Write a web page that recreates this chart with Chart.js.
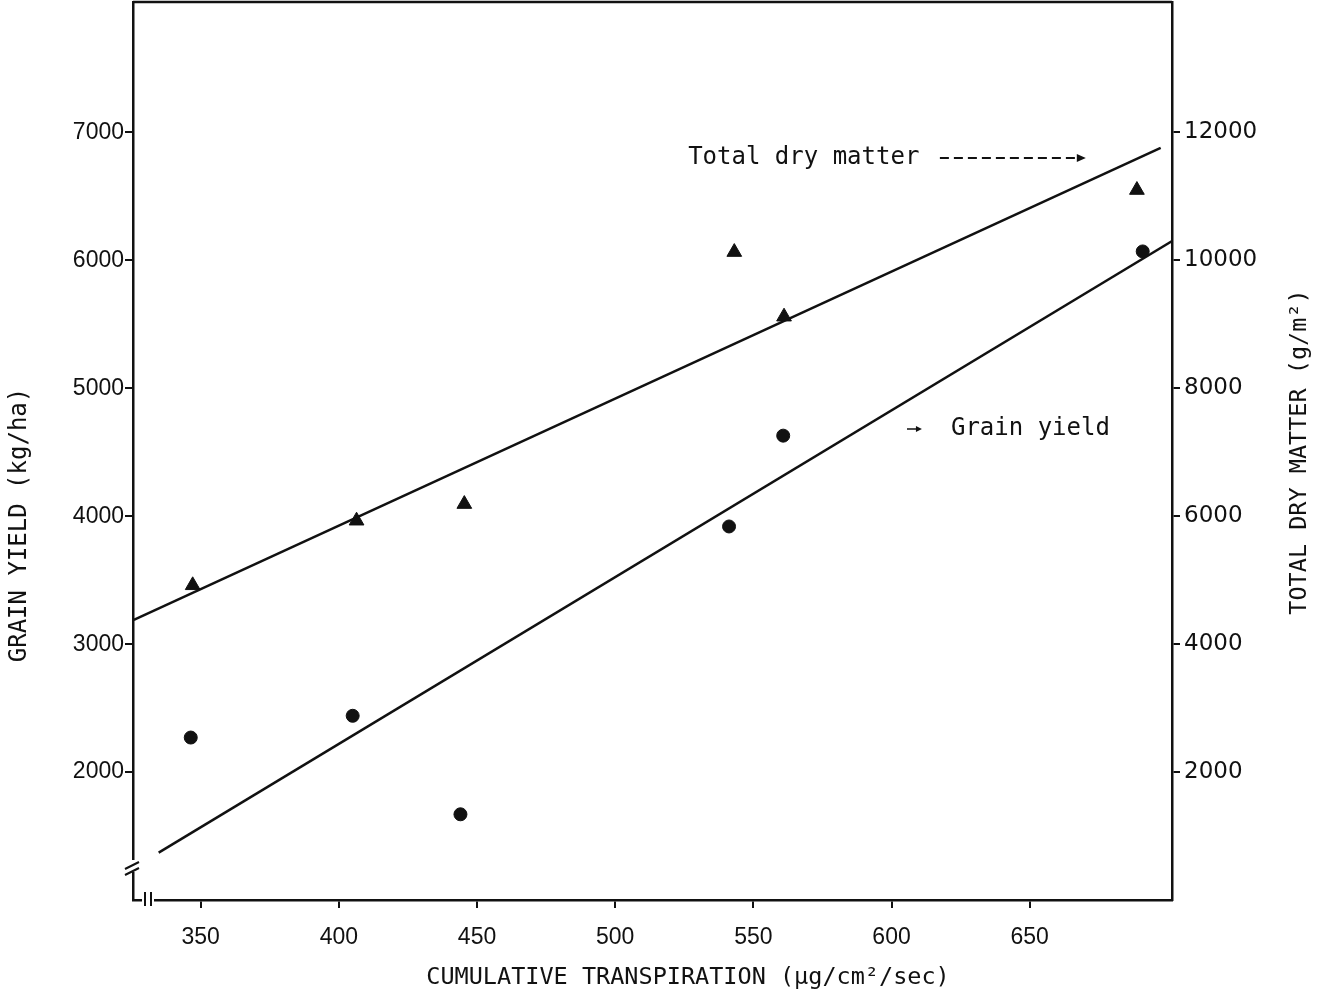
<!DOCTYPE html>
<html lang="en">
  <head>
    <meta charset="UTF-8" />
    <title>Grain yield and total dry matter vs cumulative transpiration</title>
    <script src="https://cdn.jsdelivr.net/npm/chart.js"></script>
    <style>
      html, body { margin: 0; padding: 0; background: #fff; }
      #wrap { width: 1321px; height: 1000px; }
    </style>
  </head>
  <body>
    <div id="wrap"><canvas id="transpirationChart"></canvas></div>

    <script>
      // cumulative transpiration (ug/cm2/sec) and total dry matter (g/m2), triangles
      const dryMatterX = [347.1, 406.4, 445.4, 543.1, 561.1, 688.8]
      const dryMatterY = [4920, 5930, 6190, 10130, 9120, 11100]
      // grain yield (kg/ha), dots
      const grainX = [346.4, 405.0, 444.0, 541.2, 560.8, 690.9]
      const grainY = [2270, 2440, 1670, 3920, 4630, 6070]
      // regression lines, both ends
      const dryMatterFitX = [325.8, 697.4]
      const dryMatterFitY = [4380, 11760]
      const grainFitX = [334.8, 701.4]
      const grainFitY = [1370, 6150]
      // tick labels
      const xTicks = [350, 400, 450, 500, 550, 600, 650]
      const grainTicks = [2000, 3000, 4000, 5000, 6000, 7000]
      const dryMatterTicks = [2000, 4000, 6000, 8000, 10000, 12000]

      const ink = '#111'
      const monoFont = '"DejaVu Sans Mono", monospace'

      function toPoints(xs, ys) {
        return xs.map((x, i) => ({ x: x, y: ys[i] }))
      }

      // no extra room for the end labels
      function noPadding(scale) {
        scale.paddingTop = 0
        scale.paddingBottom = 0
        scale.paddingLeft = 0
        scale.paddingRight = 0
      }

      // titles, annotations, top border and axis breaks
      const extrasPlugin = {
        id: 'extras',
        afterDraw(chart) {
          const ctx = chart.ctx
          const area = chart.chartArea
          const xs = chart.scales.x
          const ys = chart.scales.y
          ctx.save()
          ctx.strokeStyle = ink
          ctx.fillStyle = ink

          // top border
          ctx.lineWidth = 2.5
          ctx.beginPath()
          ctx.moveTo(area.left, area.top)
          ctx.lineTo(area.right, area.top)
          ctx.stroke()

          // axis titles
          ctx.textAlign = 'center'
          ctx.textBaseline = 'middle'
          ctx.font = '23.5px ' + monoFont
          ctx.fillText('CUMULATIVE TRANSPIRATION (\u00b5g/cm\u00b2/sec)', 688, 978)

          ctx.save()
          ctx.translate(20, 525)
          ctx.rotate(-Math.PI / 2)
          ctx.font = '24px ' + monoFont
          ctx.fillText('GRAIN YIELD (kg/ha)', 0, 0)
          ctx.restore()

          ctx.save()
          ctx.translate(1300, 452)
          ctx.rotate(-Math.PI / 2)
          ctx.font = '23.5px ' + monoFont
          ctx.fillText('TOTAL DRY MATTER (g/m\u00b2)', 0, 0)
          ctx.restore()

          // line labels
          ctx.textAlign = 'left'
          ctx.font = '24px ' + monoFont
          const tdY = ys.getPixelForValue(6801)
          ctx.fillText('Total dry matter', xs.getPixelForValue(526.4), tdY)
          ctx.lineWidth = 2
          ctx.setLineDash([9, 5])
          ctx.beginPath()
          ctx.moveTo(xs.getPixelForValue(617.5), tdY)
          ctx.lineTo(xs.getPixelForValue(668.5), tdY)
          ctx.stroke()
          ctx.setLineDash([])
          let tip = xs.getPixelForValue(670.3)
          ctx.beginPath()
          ctx.moveTo(tip, tdY)
          ctx.lineTo(tip - 9, tdY - 4)
          ctx.lineTo(tip - 9, tdY + 4)
          ctx.closePath()
          ctx.fill()

          const gyY = ys.getPixelForValue(4682)
          ctx.fillText('Grain yield', xs.getPixelForValue(621.5), gyY)
          ctx.lineWidth = 1.5
          ctx.beginPath()
          ctx.moveTo(xs.getPixelForValue(605.6), gyY)
          ctx.lineTo(xs.getPixelForValue(609.5), gyY)
          ctx.stroke()
          tip = xs.getPixelForValue(611)
          ctx.beginPath()
          ctx.moveTo(tip, gyY)
          ctx.lineTo(tip - 6, gyY - 3)
          ctx.lineTo(tip - 6, gyY + 3)
          ctx.closePath()
          ctx.fill()

          // break on the left axis
          ctx.fillStyle = '#fff'
          ctx.fillRect(area.left - 4, area.bottom - 40, 8, 12)
          ctx.lineWidth = 2
          ctx.beginPath()
          ctx.moveTo(area.left - 8, area.bottom - 31)
          ctx.lineTo(area.left + 6, area.bottom - 38)
          ctx.moveTo(area.left - 8, area.bottom - 25)
          ctx.lineTo(area.left + 6, area.bottom - 32)
          ctx.stroke()

          // break on the bottom axis
          ctx.fillRect(area.left + 9, area.bottom - 3, 12, 6)
          ctx.beginPath()
          ctx.moveTo(area.left + 12, area.bottom - 8)
          ctx.lineTo(area.left + 12, area.bottom + 6)
          ctx.moveTo(area.left + 18, area.bottom - 8)
          ctx.lineTo(area.left + 18, area.bottom + 6)
          ctx.stroke()

          ctx.restore()
        }
      }

      const ctx = document.getElementById('transpirationChart').getContext('2d')
      new Chart(ctx, {
        type: 'scatter',
        data: {
          datasets: [
            {
              label: 'Total dry matter',
              data: toPoints(dryMatterX, dryMatterY),
              yAxisID: 'y2',
              pointStyle: 'triangle',
              pointRadius: 8.5,
              backgroundColor: ink,
              borderColor: ink
            },
            {
              label: 'Grain yield',
              data: toPoints(grainX, grainY),
              yAxisID: 'y',
              pointStyle: 'circle',
              pointRadius: 6.5,
              backgroundColor: ink,
              borderColor: ink
            },
            {
              label: 'Total dry matter fit',
              data: toPoints(dryMatterFitX, dryMatterFitY),
              yAxisID: 'y2',
              showLine: true,
              pointRadius: 0,
              borderWidth: 2.5,
              borderColor: ink
            },
            {
              label: 'Grain yield fit',
              data: toPoints(grainFitX, grainFitY),
              yAxisID: 'y',
              showLine: true,
              pointRadius: 0,
              borderWidth: 2.5,
              borderColor: ink
            }
          ]
        },
        options: {
          responsive: true,
          maintainAspectRatio: false,
          animation: false,
          events: [],
          layout: { autoPadding: false, padding: { top: 2, left: 0, right: 0, bottom: 0 } },
          plugins: {
            legend: { display: false },
            tooltip: { enabled: false }
          },
          scales: {
            x: {
              type: 'linear',
              position: 'bottom',
              min: 325.5,
              max: 701.5,
              afterBuildTicks: scale => {
                scale.ticks = xTicks.map(v => ({ value: v }))
              },
              afterFit: scale => {
                scale.height = 100
                noPadding(scale)
              },
              border: { display: true, color: ink, width: 2.5 },
              grid: { drawOnChartArea: false, tickLength: 8, color: ink, lineWidth: 2 },
              ticks: {
                color: ink,
                padding: 16,
                maxRotation: 0,
                font: { family: '"Liberation Sans", Arial, sans-serif', size: 23 }
              }
            },
            y: {
              type: 'linear',
              position: 'left',
              min: 1000,
              max: 8020,
              afterBuildTicks: scale => {
                scale.ticks = grainTicks.map(v => ({ value: v }))
              },
              afterFit: scale => {
                scale.width = 133
                noPadding(scale)
              },
              border: { display: true, color: ink, width: 2.5 },
              grid: { drawOnChartArea: false, tickLength: 8, color: ink, lineWidth: 2 },
              ticks: {
                color: ink,
                padding: 1,
                callback: v => String(v),
                font: { family: '"Liberation Sans", Arial, sans-serif', size: 23 }
              }
            },
            y2: {
              type: 'linear',
              position: 'right',
              min: 0,
              max: 14040,
              afterBuildTicks: scale => {
                scale.ticks = dryMatterTicks.map(v => ({ value: v }))
              },
              afterFit: scale => {
                scale.width = 149
                noPadding(scale)
              },
              border: { display: true, color: ink, width: 2.5 },
              grid: { drawOnChartArea: false, tickLength: 8, color: ink, lineWidth: 2 },
              ticks: {
                color: ink,
                padding: 4,
                callback: v => String(v),
                font: { family: '"DejaVu Sans", sans-serif', size: 23 }
              }
            }
          }
        },
        plugins: [extrasPlugin]
      })
    </script>
  </body>
</html>
